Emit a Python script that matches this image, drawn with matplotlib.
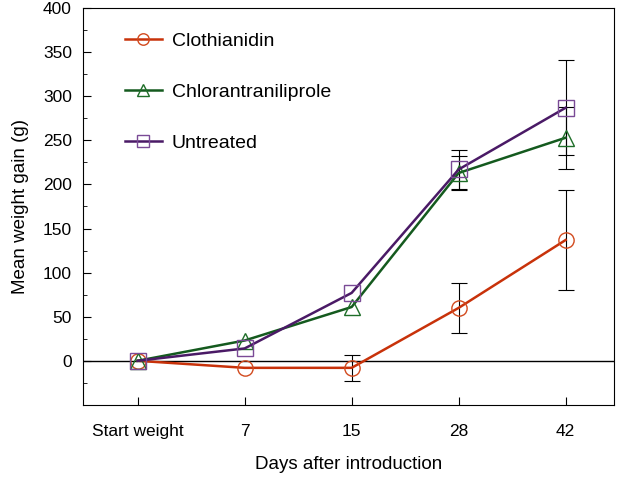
import numpy as np
import matplotlib
matplotlib.use("Agg")
import matplotlib.pyplot as plt
from matplotlib.ticker import MultipleLocator

plt.rcParams['font.family'] = ['Liberation Sans', 'DejaVu Sans']

# categories on the x axis
days = ["Start weight", "7", "15", "28", "42"]

# mean weight gain (g)
clothianidin = [0, -8, -8, 60, 137]
chlorantraniliprole = [0, 23, 61, 213, 253]
untreated = [0, 14, 77, 217, 287]

# error bars (NaN = none drawn)
clo_err = [np.nan, np.nan, 15, 28, 57]
chl_err = [np.nan, np.nan, np.nan, 19, 35]
unt_err = [np.nan, np.nan, np.nan, 22, 54]

x = np.arange(len(days))

fig = plt.figure(figsize=(6.2, 4.78), dpi=100)
ax = fig.add_axes([0.134, 0.153, 0.856, 0.830])

series = [
    ("Clothianidin", clothianidin, clo_err, "o", "#c8320a", "#d24a1e"),
    ("Chlorantraniliprole", chlorantraniliprole, chl_err, "^", "#145a1e", "#1e6e28"),
    ("Untreated", untreated, unt_err, "s", "#4a1a66", "#7a4a96"),
]

for name, vals, err, mk, lc, mc in series:
    e = np.array(err, dtype=float)
    ok = ~np.isnan(e)
    ax.errorbar(x[ok], np.array(vals)[ok], yerr=e[ok], fmt="none",
                ecolor="black", elinewidth=0.8, capsize=6, capthick=0.8, zorder=2)
    ax.plot(x, vals, color=lc, lw=1.8, marker=mk, markersize=11,
            markerfacecolor="none", markeredgecolor=mc, markeredgewidth=1.0,
            label=name, zorder=3)

ax.axhline(0, color="black", lw=1.0, zorder=1)

ax.set_xlim(-0.51, 4.45)
ax.set_ylim(-50, 400)
ax.set_xticks(x)
ax.set_xticklabels(days)
ax.set_yticks([0, 50, 100, 150, 200, 250, 300, 350, 400])
ax.yaxis.set_minor_locator(MultipleLocator(25))
ax.tick_params(direction="in", length=6, labelsize=12.5, pad=8)
ax.tick_params(axis="y", which="minor", direction="in", length=3)
ax.tick_params(axis="x", pad=14)

ax.set_xlabel("Days after introduction", fontsize=13.5, labelpad=12)
ax.set_ylabel("Mean weight gain (g)", fontsize=13.5, labelpad=10)

ax.legend(loc="upper left", frameon=False, fontsize=14, labelspacing=1.72,
          handlelength=1.9, bbox_to_anchor=(0.046, 0.984), handletextpad=0.5,
          markerscale=0.75)

fig.savefig("out.png", dpi=100)
